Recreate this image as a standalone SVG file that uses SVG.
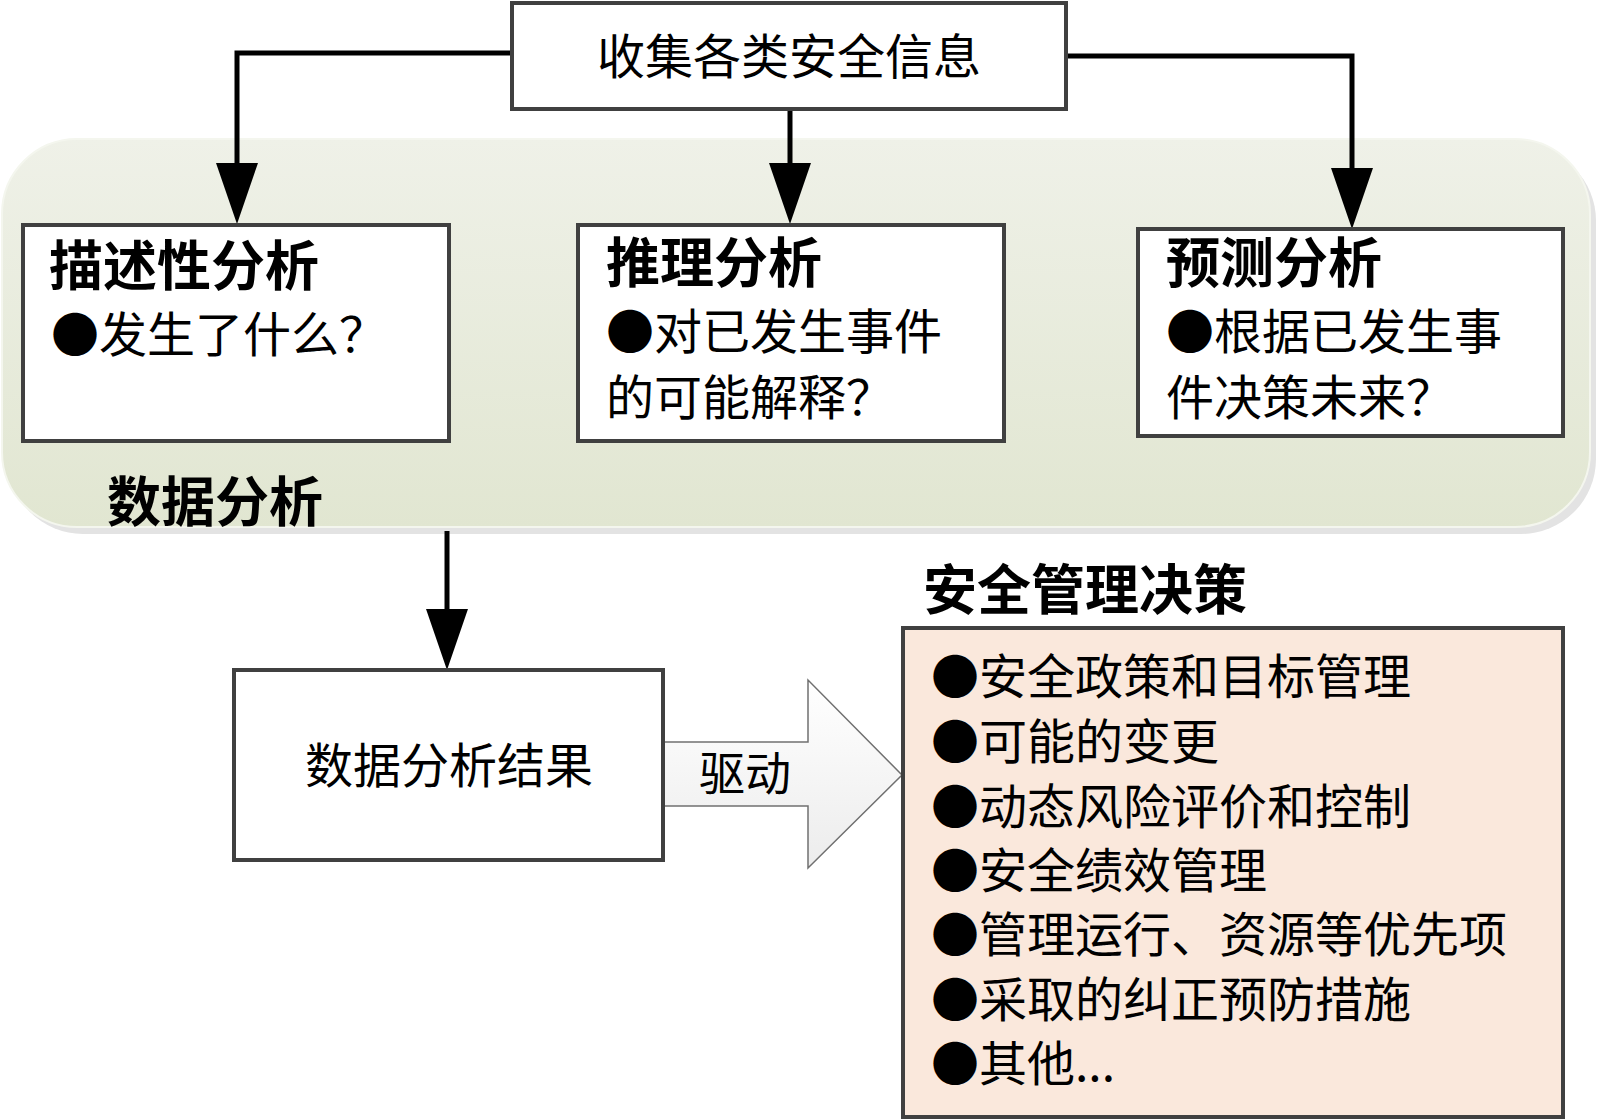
<svg xmlns="http://www.w3.org/2000/svg" width="1600" height="1120" viewBox="0 0 1600 1120">
<defs>
<linearGradient id="panelG" x1="0" y1="0" x2="0" y2="1">
<stop offset="0" stop-color="#eff1e8"/>
<stop offset="1" stop-color="#e1e6d1"/>
</linearGradient>
<linearGradient id="arrowG" x1="0" y1="0" x2="0" y2="1">
<stop offset="0" stop-color="#ffffff"/>
<stop offset="1" stop-color="#ececec"/>
</linearGradient>
<marker id="ah" markerUnits="userSpaceOnUse" markerWidth="62" markerHeight="44" refX="0" refY="21" orient="auto" overflow="visible">
<path d="M0,0 L61,21 L0,42 Z" fill="#000"/>
</marker>
<style>
.box{fill:#ffffff;stroke:#404040;stroke-width:4}
.t{font-family:"Noto Sans CJK SC","Noto Sans CJK JP",sans-serif;fill:#000}
.b{font-size:48px;font-weight:400}
.h{font-size:54px;font-weight:700}
.conn{fill:none;stroke:#000;stroke-width:5;marker-end:url(#ah)}
</style>
</defs>
<rect width="1600" height="1120" fill="#ffffff"/>

<g id="panel">
<rect x="8" y="146" width="1588" height="388" rx="75" fill="#e3e3e3"/>
<rect x="2" y="139" width="1588" height="388" rx="75" fill="url(#panelG)" stroke="#f4f6ee" stroke-width="2"/>
<text class="t h" x="107" y="522">数据分析</text>
</g>

<g id="connectors">
<path class="conn" d="M512,53 H237 V163"/>
<path class="conn" d="M790,109 V163"/>
<path class="conn" d="M1066,56 H1352 V168"/>
<path class="conn" d="M447,531 V609"/>
<polygon points="663,742 808,742 808,680 902,775 808,868 808,806 663,806" fill="url(#arrowG)" stroke="#707070" stroke-width="1.5"/>
<text class="t" x="745" y="790" font-size="46" text-anchor="middle">驱动</text>
</g>

<g id="collect">
<rect class="box" x="512" y="3" width="554" height="106" stroke-width="3"/>
<text class="t b" x="789" y="74" text-anchor="middle">收集各类安全信息</text>
</g>

<g id="descriptive">
<rect class="box" x="23" y="225" width="426" height="216"/>
<text class="t h" x="49" y="286">描述性分析</text>
<text class="t b" x="51" y="352">●发生了什么？</text>
</g>

<g id="inference">
<rect class="box" x="578" y="225" width="426" height="216"/>
<text class="t h" x="606" y="283">推理分析</text>
<text class="t b" x="606" y="349">●对已发生事件</text>
<text class="t b" x="606" y="415">的可能解释？</text>
</g>

<g id="predictive">
<rect class="box" x="1138" y="229" width="425" height="207"/>
<text class="t h" x="1166" y="283">预测分析</text>
<text class="t b" x="1166" y="349">●根据已发生事</text>
<text class="t b" x="1166" y="415">件决策未来？</text>
</g>

<g id="result">
<rect class="box" x="234" y="670" width="429" height="190"/>
<text class="t b" x="449" y="783" text-anchor="middle">数据分析结果</text>
</g>

<g id="decision">
<text class="t h" x="923" y="610">安全管理决策</text>
<rect class="box" x="903" y="628" width="660" height="489" style="fill:#fae8dc"/>
<text class="t b" x="931" y="694">●安全政策和目标管理</text>
<text class="t b" x="931" y="759">●可能的变更</text>
<text class="t b" x="931" y="824">●动态风险评价和控制</text>
<text class="t b" x="931" y="888">●安全绩效管理</text>
<text class="t b" x="931" y="952">●管理运行、资源等优先项</text>
<text class="t b" x="931" y="1017">●采取的纠正预防措施</text>
<text class="t b" x="931" y="1081">●其他...</text>
</g>
</svg>
